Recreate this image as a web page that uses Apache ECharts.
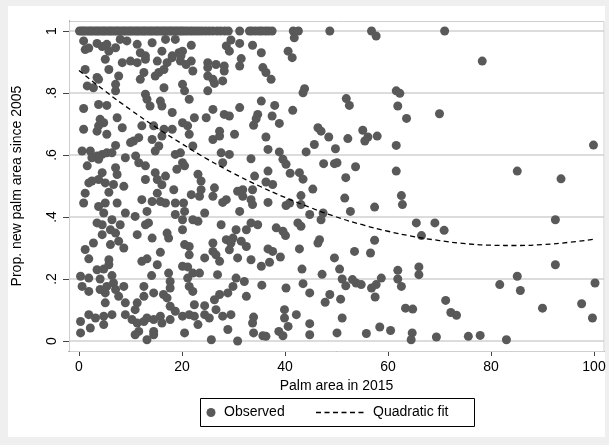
<!DOCTYPE html>
<html><head><meta charset="utf-8">
<script src="https://cdn.jsdelivr.net/npm/echarts@6/dist/echarts.min.js"></script>
<style>html,body{margin:0;padding:0;background:#efefef}#c{width:609px;height:445px}</style>
</head><body><div id="c"></div>
<script>
// Observed points: x = palm area in 2015, y = proportion new since 2005
const topRowX = [0.1,0.5,0.9,1.3,1.8,2.2,2.6,3.1,3.5,3.9,4.4,4.8,5.2,5.7,6.1,6.5,7.0,7.4,7.8,8.3,8.7,9.1,9.6,10.0,10.4,10.9,11.3,11.7,12.2,12.6,13.0,13.5,13.9,14.3,14.8,15.2,15.6,16.1,16.5,16.9,17.4,17.8,18.2,18.7,19.1,19.6,20.0,20.5,21.0,21.6,22.1,22.7,23.3,23.9,24.6,25.3,26.0,26.8,27.5,28.3,29.0,31.2,33.1,33.6,34.3,35.0,35.5,36.2,36.8,37.5,41.6,42.6,48.7,56.8,71.0];
const obsX = [
0.9,1.2,1.9,3.5,4.5,5.4,5.8,7.1,8.0,9.3,11.3,11.9,12.9,14.2,16.8,18.7,16.1,18.1,19.4,
5.1,5.8,8.4,10,11.3,12.6,12.9,15.2,15.5,16.5,17.1,18.1,1.2,3.5,7.7,11.9,14.8,19.7,
1.6,2.8,3.8,7.1,7.1,12.9,13.2,13.8,16.5,3.8,5.4,0.9,15.8,16.1,18.1,
4.1,4.8,3.8,3.5,0.9,7.4,8.4,5.4,12.2,14.5,16.5,18.1,10.6,11.6,10,14.2,16.1,15.5,14.8,7.1,
0.6,2.2,2.5,3.5,4.5,5.4,6.4,3.8,1.6,9,11,11.6,12.9,7.1,7.4,4.5,2.5,3.8,5.1,6.7,12.9,14.8,15.2,16.8,19,19.7,18.7,
1.9,8.7,1.2,5.8,0.9,3.8,5.1,7.4,12.2,16.1,15.2,14.2,15.8,16.8,18.4,18.7,20.3,
9,10.9,13.2,4.8,18.7,3.5,4.5,6.4,8,6.1,7.1,4.5,12.9,13.5,11.3,14.2,17.1,17.4,
2.8,6.1,7.7,8.7,1.2,1.9,5.8,5.8,3.5,4.8,12.2,13.2,15.2,15.8,
14.1,17.4,0.3,1.9,4.1,6.4,
0.6,1.9,4.1,5.1,6.7,7.1,5.4,8.7,7.7,9,5.1,12.6,12.6,14.5,16.4,17.7,17.7,17.1,11.3,10.9,17.7,18.7,
0.3,1.9,3.2,4.8,6.4,2.2,4.8,0.3,9,10.3,11.3,12.6,11.6,10.9,13.2,14.5,15.8,16.1,17.7,14.5,13.2,14.5,
21.8,20.1,19.8,29.5,28.6,29.2,31.2,21.8,20.8,22.1,25,25,26.6,28.2,28.2,31.2,31.5,25,26,26.3,27.9,20.1,20.5,25,21.4,26,31.2,22.4,24.7,28.2,29.2,20.1,21.1,21.4,27.3,27.3,26,30.2,27.6,29.2,22.1,27.9,20.1,20.5,23.1,23.7,
23.7,21.8,23.4,26.3,26,28.6,27.9,30.8,31.8,31.8,20.5,24.4,31.2,20.1,22.1,23.1,20.1,27.6,32.5,30.5,29.9,28.6,29.5,31.5,32.5,26,20.5,21.4,26,26.6,27.3,29.2,30.8,24.4,21.4,20.1,21.1,22.1,23.4,26.9,21.1,21.4,22.1,30.5,32.1,29.9,28.9,32.5,27.3,26.3,22.4,24.4,26.6,20.1,21.4,22.4,24.4,25.3,27.9,29.5,23.1,28.9,20.5,25.7,30.8,
57.7,41.8,33.7,35.4,40.6,41.4,35.7,36.3,37.3,43.8,43.5,61.6,62.3,35.4,51.9,52.5,61.9,63.6,70,38,41.5,34.7,34.4,37.5,38.9,33.9,46.4,47,48.5,55.1,56.1,55.5,57.9,52.2,36.3,45.7,49.8,44.1,61.6,36.7,38.9,47.5,49.6,50.1,53.7,61.6,42.8,43.5,41,51.8,36.7,34.1,36.3,37.6,33.4,39.6,40.2,
33.7,33.4,33.7,36.7,40.9,40.2,43.1,43.1,45.4,44.8,47.4,47,51.6,52.7,57.4,62.6,62.8,65.5,69.1,70.9,66.5,57.4,33.4,34.7,38.3,39.6,40.1,42.5,43.1,46.7,46.4,36.7,37.6,39.1,42.8,33.4,35.4,37,49.6,53.5,56.6,43.3,47.2,50.6,51.1,51.8,53.1,53.8,54.8,56.8,57.7,58.7,57.5,61.9,61.9,62.6,66,66,35.5,40.2,43.5,44.8,48.7,47.8,50.8,71.2,63.4,64.8,39.9,39.9,40.6,42.2,44.8,44.8,51.1,33.9,33.7,33.9,35.7,36.3,38.8,39.6,50.1,55.8,58.4,60.5,64.7,64.5,69.4,72.2,
78.3,99.9,85.1,93.6,92.5,92.5,81.7,85.1,85.7,100.2,73.3,90,97.6,99.7,75.6,77.9,83
];
const obsY = [
.968,.94,.945,.96,.95,.957,.935,.946,.973,.968,.957,.93,.92,.962,.973,.973,.935,.92,.93,
.909,.876,.898,.903,.898,.866,.909,.903,.866,.876,.898,.914,.876,.85,.855,.844,.855,.903,
.823,.817,.844,.828,.807,.796,.78,.758,.817,.763,.76,.75,.774,.758,.737,
.715,.704,.694,.677,.683,.72,.688,.667,.694,.694,.683,.683,.645,.656,.64,.65,.661,.629,.613,.631,
.613,.613,.591,.597,.602,.607,.607,.586,.565,.591,.597,.575,.565,.559,.537,.543,.516,.521,.51,.505,.521,.543,.521,.532,.554,.607,.602,
.51,.499,.477,.48,.445,.434,.445,.445,.456,.504,.477,.45,.45,.445,.488,.445,.445,
.413,.402,.418,.413,.408,.381,.375,.391,.375,.359,.348,.343,.375,.381,.343,.332,.348,.332,
.316,.311,.322,.3,.295,.265,.262,.246,.23,.232,.257,.265,.246,.286,
.211,.219,.209,.203,.2,.211,
.176,.16,.166,.155,.187,.166,.176,.176,.144,.123,.123,.176,.144,.155,.15,.192,.171,.139,.123,.101,.112,.096,
.063,.085,.074,.08,.085,.042,.053,.026,.085,.069,.058,.063,.031,.02,.074,.069,.08,.058,.069,.031,.004,.02,
.954,.935,.92,.971,.952,.935,.96,.903,.892,.871,.898,.882,.892,.887,.871,.887,.911,.855,.844,.831,.839,.828,.807,.807,.78,.747,.753,.72,.72,.731,.726,.704,.694,.667,.677,.661,.65,.667,.607,.602,.629,.575,.575,.565,.538,.516,
.488,.472,.467,.494,.467,.456,.447,.483,.488,.467,.418,.413,.418,.391,.391,.386,.359,.375,.359,.359,.332,.327,.316,.322,.305,.316,.311,.305,.289,.278,.257,.294,.268,.268,.278,.241,.239,.219,.219,.214,.203,.176,.16,.203,.192,.176,.155,.144,.15,.133,.117,.114,.101,.08,.085,.08,.085,.074,.08,.085,.053,.037,.026,.004,0.0,
.984,.978,.954,.93,.935,.914,.882,.866,.844,.814,.801,.807,.799,.774,.782,.76,.758,.718,.733,.76,.744,.731,.717,.726,.702,.696,.688,.677,.658,.68,.658,.645,.661,.653,.658,.634,.62,.61,.631,.618,.61,.572,.572,.575,.562,.548,.543,.522,.541,.527,.548,.532,.513,.505,.588,.586,.57,
.488,.456,.44,.447,.445,.437,.469,.44,.49,.408,.413,.391,.461,.418,.432,.469,.44,.381,.381,.357,.34,.325,.381,.375,.365,.354,.34,.381,.37,.327,.316,.297,.289,.271,.297,.262,.241,.254,.268,.289,.284,.232,.215,.232,.2,.178,.198,.187,.182,.171,.182,.203,.142,.228,.2,.176,.239,.214,.18,.171,.185,.155,.15,.125,.135,.131,.106,.103,.101,.074,.047,.085,.056,.02,.074,.077,.058,.026,.017,.015,.031,.017,.026,.024,.045,.034,.026,.004,.013,.092,
.903,.632,.548,.523,.391,.246,.182,.209,.163,.187,.083,.106,.12,.074,.015,.018,.004
];
// Quadratic fit
const fitX = [0,5,10,15,20,25,30,35,40,45,50,55,60,65,70,75,80,85,90,95,100];
const fitY = [0.873,0.807,0.746,0.689,0.636,0.586,0.541,0.500,0.463,0.430,0.400,0.375,0.354,0.337,0.324,0.314,0.309,0.308,0.311,0.318,0.328];
const xTicks = [0,20,40,60,80,100];
const yTicks = [0,0.2,0.4,0.6,0.8,1];
const xTitle = 'Palm area in 2015';
const yTitle = 'Prop. new palm area since 2005';
const legendNames = ['Observed','Quadratic fit'];

const pts = topRowX.map(x => [x, 1]).concat(obsX.map((x, i) => [x, obsY[i]]));
const FONT = '"Liberation Sans", Arial, sans-serif';
const fmtY = v => { const r = Math.round(v * 10) / 10; return r === 0 ? '0' : r === 1 ? '1' : String(r).replace(/^0/, ''); };

const chart = echarts.init(document.getElementById('c'), null, {renderer: 'canvas'});
chart.setOption({
  backgroundColor: '#efefef',
  animation: false,
  graphic: [
    {type: 'rect', z: -10, silent: true, shape: {x: 8, y: 6, width: 597, height: 431}, style: {fill: '#ffffff'}},
    {type: 'rect', z: 5, silent: true, shape: {x: 69.5, y: 21.5, width: 534.5, height: 330}, style: {fill: 'none', stroke: '#cfcfcf', lineWidth: 1}},
    {type: 'rect', z: 10, shape: {x: 200.5, y: 398.5, width: 274, height: 28}, style: {fill: '#fff', stroke: '#000', lineWidth: 1}},
    {type: 'circle', z: 11, shape: {cx: 211, cy: 412.5, r: 4.5}, style: {fill: '#595959'}},
    {type: 'text', z: 11, style: {x: 224, y: 412.5, text: legendNames[0], fontSize: 14, fontFamily: FONT, fill: '#000', verticalAlign: 'middle'}},
    {type: 'line', z: 11, shape: {x1: 316, y1: 412.5, x2: 366, y2: 412.5}, style: {stroke: '#000', lineWidth: 1.3, lineDash: [5, 3.5]}},
    {type: 'text', z: 11, style: {x: 373, y: 412.5, text: legendNames[1], fontSize: 14, fontFamily: FONT, fill: '#000', verticalAlign: 'middle'}}
  ],
  grid: {left: 69, top: 21, width: 535, height: 330, show: false},
  xAxis: {
    type: 'value', min: -1.943, max: 101.943,
    name: xTitle, nameLocation: 'middle', nameGap: 25,
    nameTextStyle: {fontSize: 14, fontFamily: FONT, color: '#000'},
    axisLine: {show: true, onZero: false, lineStyle: {color: '#444', width: 1}},
    axisTick: {show: true, length: 5, lineStyle: {color: '#444'}, customValues: xTicks},
    axisLabel: {customValues: xTicks, fontSize: 14, fontFamily: FONT, color: '#000', margin: 9},
    splitLine: {show: false}
  },
  yAxis: {
    type: 'value', min: -0.0323, max: 1.0323,
    name: yTitle, nameLocation: 'middle', nameGap: 45, nameRotate: 90,
    nameTextStyle: {fontSize: 14, fontFamily: FONT, color: '#000'},
    axisLine: {show: true, onZero: false, lineStyle: {color: '#444', width: 1}},
    axisTick: {show: true, length: 6, lineStyle: {color: '#444'}, customValues: yTicks},
    axisLabel: {customValues: yTicks, rotate: 90, fontSize: 14, fontFamily: FONT, color: '#000', margin: 10, formatter: fmtY},
    splitLine: {show: true, lineStyle: {color: '#d0d0d0', width: 1.5}}
  },
  series: [
    {
      type: 'scatter', name: legendNames[0], data: pts, symbol: 'circle', symbolSize: 9,
      itemStyle: {color: '#595959', opacity: 1}, z: 3
    },
    {
      type: 'line', name: legendNames[1], data: fitX.map((x, i) => [x, fitY[i]]),
      showSymbol: false, smooth: true, z: 4,
      lineStyle: {color: '#000', width: 1.3, type: [5, 3.5]}
    }
  ]
});
</script></body></html>
